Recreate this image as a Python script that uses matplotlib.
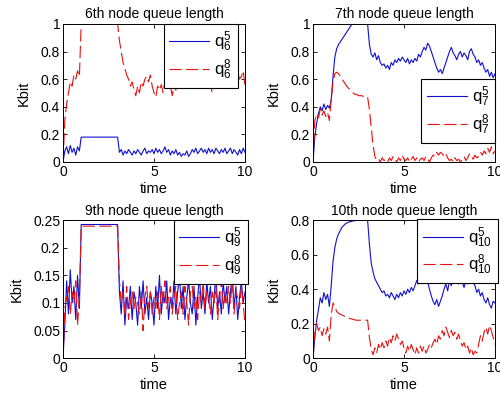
import numpy as np
import matplotlib
matplotlib.use("Agg")
import matplotlib.pyplot as plt

plt.rcParams['font.family'] = ['Liberation Sans', 'DejaVu Sans']
plt.rcParams['mathtext.default'] = 'regular'

t = np.round(np.arange(0, 10.01, 0.1), 1)

# 6th node
q6_5 = ([0.00, 0.08, 0.11, 0.06, 0.12, 0.07, 0.10, 0.05, 0.11, 0.08]
        + [0.18] * 21
        + [0.07, 0.09, 0.05, 0.08, 0.06, 0.09, 0.07, 0.05, 0.08, 0.06,
           0.09, 0.07, 0.05, 0.08, 0.10, 0.06, 0.08, 0.07, 0.09, 0.06,
           0.10, 0.07, 0.09, 0.06, 0.08, 0.11, 0.07, 0.09, 0.05, 0.08,
           0.06, 0.09, 0.05, 0.07, 0.04, 0.06, 0.05, 0.08, 0.04, 0.06,
           0.09, 0.07, 0.10, 0.06, 0.08, 0.10, 0.07, 0.09, 0.06, 0.10,
           0.07, 0.09, 0.06, 0.10, 0.08, 0.06, 0.09, 0.07, 0.10, 0.06,
           0.08, 0.10, 0.06, 0.09, 0.07, 0.05, 0.09, 0.06, 0.10, 0.07])
q6_8 = ([0.00, 0.30, 0.42, 0.50, 0.58, 0.55, 0.63, 0.60, 0.66, 0.62]
        + [1.0] * 21
        + [0.88, 0.80, 0.72, 0.68, 0.63, 0.60, 0.55, 0.58, 0.52, 0.48,
           0.55, 0.50, 0.58, 0.55, 0.60, 0.62, 0.58, 0.63, 0.55, 0.50,
           0.47, 0.55, 0.52, 0.56, 0.50, 0.58, 0.53, 0.60, 0.55, 0.48,
           0.55, 0.52, 0.58, 0.54, 0.60, 0.56, 0.62, 0.58, 0.55, 0.60,
           0.57, 0.62, 0.58, 0.55, 0.60, 0.57, 0.62, 0.58, 0.55, 0.52,
           0.56, 0.50, 0.54, 0.58, 0.53, 0.57, 0.60, 0.55, 0.62, 0.58,
           0.60, 0.56, 0.62, 0.58, 0.63, 0.65, 0.60, 0.62, 0.66, 0.55])

# 7th node
q7_5 = [0.00, 0.18, 0.28, 0.35, 0.40, 0.37, 0.42, 0.38, 0.41, 0.39,
        0.45, 0.62, 0.76, 0.82, 0.85, 0.87, 0.89, 0.91, 0.93, 0.95,
        0.97, 0.99, 1.0, 1.0, 1.0, 1.0, 1.0, 1.0, 1.0, 1.0,
        1.0,
        0.85, 0.78, 0.76, 0.79, 0.74, 0.77, 0.72, 0.70, 0.71, 0.68,
        0.70, 0.67, 0.72, 0.70, 0.74, 0.72, 0.75, 0.73, 0.76, 0.74,
        0.72, 0.75, 0.71, 0.74, 0.72, 0.75, 0.73, 0.78, 0.76, 0.80,
        0.83, 0.81, 0.86, 0.84, 0.80, 0.76, 0.72, 0.68, 0.65, 0.67,
        0.64, 0.68, 0.72, 0.76, 0.80, 0.83, 0.79, 0.77, 0.74, 0.78,
        0.80, 0.76, 0.79, 0.77, 0.74, 0.80, 0.82, 0.78, 0.76, 0.72,
        0.74, 0.70, 0.72, 0.68, 0.65, 0.67, 0.62, 0.65, 0.61, 0.64]
q7_8 = [0.00, 0.30, 0.35, 0.32, 0.38, 0.34, 0.37, 0.33, 0.36, 0.30,
        0.45, 0.58, 0.64, 0.65, 0.64, 0.62, 0.60, 0.58, 0.56, 0.54,
        0.53, 0.51, 0.50, 0.49, 0.49, 0.48, 0.48, 0.48, 0.47, 0.47,
        0.47,
        0.38, 0.25, 0.12, 0.04, 0.01, 0.02, 0.00, 0.03, 0.01, 0.02,
        0.00, 0.03, 0.01, 0.04, 0.02, 0.00, 0.03, 0.01, 0.05, 0.02,
        0.01, 0.03, 0.00, 0.02, 0.04, 0.01, 0.03, 0.00, 0.02, 0.03,
        0.01, 0.04, 0.02, 0.00, 0.03, 0.05, 0.04, 0.07, 0.05, 0.07,
        0.06, 0.04, 0.06, 0.03, 0.01, 0.02, 0.00, 0.03, 0.01, 0.02,
        0.00, 0.02, 0.04, 0.01, 0.03, 0.06, 0.04, 0.02, 0.05, 0.03,
        0.04, 0.07, 0.05, 0.08, 0.06, 0.10, 0.07, 0.11, 0.06, 0.08]

# 9th node
q9_5 = ([0.00, 0.06, 0.14, 0.08, 0.16, 0.10, 0.13, 0.07, 0.15, 0.09]
        + [0.242] * 21
        + [0.12, 0.08, 0.14, 0.06, 0.11, 0.09, 0.13, 0.07, 0.12, 0.10,
           0.06, 0.13, 0.09, 0.14, 0.08, 0.11, 0.07, 0.12, 0.10, 0.06,
           0.13, 0.09, 0.15, 0.08, 0.12, 0.10, 0.14, 0.07, 0.11, 0.09,
           0.14, 0.08, 0.12, 0.15, 0.09, 0.13, 0.07, 0.11, 0.14, 0.10,
           0.08, 0.13, 0.06, 0.11, 0.15, 0.09, 0.12, 0.08, 0.14, 0.10,
           0.13, 0.07, 0.11, 0.15, 0.09, 0.12, 0.08, 0.14, 0.10, 0.13,
           0.08, 0.12, 0.15, 0.09, 0.13, 0.07, 0.11, 0.14, 0.10, 0.12])
q9_8 = ([0.00, 0.09, 0.11, 0.13, 0.08, 0.12, 0.10, 0.14, 0.06, 0.11]
        + [0.239] * 21
        + [0.14, 0.10, 0.12, 0.08, 0.13, 0.07, 0.10, 0.12, 0.09, 0.11,
           0.10, 0.08, 0.12, 0.05, 0.11, 0.13, 0.09, 0.12, 0.08, 0.11,
           0.09, 0.12, 0.07, 0.13, 0.10, 0.14, 0.09, 0.11, 0.13, 0.08,
           0.11, 0.13, 0.07, 0.10, 0.12, 0.08, 0.13, 0.10, 0.06, 0.12,
           0.13, 0.09, 0.11, 0.07, 0.12, 0.10, 0.14, 0.09, 0.12, 0.11,
           0.08, 0.12, 0.10, 0.13, 0.07, 0.11, 0.14, 0.09, 0.12, 0.10,
           0.13, 0.10, 0.14, 0.08, 0.12, 0.11, 0.09, 0.13, 0.10, 0.06])

# 10th node
q10_5 = [0.00, 0.12, 0.22, 0.28, 0.35, 0.32, 0.38, 0.34, 0.37, 0.30,
         0.42, 0.56, 0.64, 0.69, 0.72, 0.74, 0.76, 0.77, 0.78, 0.785,
         0.79, 0.792, 0.795, 0.797, 0.798, 0.8, 0.8, 0.8, 0.8, 0.8,
         0.8,
         0.66, 0.55, 0.50, 0.46, 0.44, 0.42, 0.40, 0.38, 0.39, 0.36,
         0.37, 0.35, 0.38, 0.36, 0.34, 0.37, 0.35, 0.38, 0.36, 0.39,
         0.37, 0.40, 0.38, 0.41, 0.39, 0.42, 0.45, 0.43, 0.47, 0.49,
         0.46, 0.48, 0.44, 0.40, 0.36, 0.33, 0.31, 0.34, 0.30, 0.33,
         0.36, 0.40, 0.43, 0.39, 0.45, 0.42, 0.47, 0.44, 0.46, 0.43,
         0.47, 0.44, 0.41, 0.45, 0.43, 0.46, 0.48, 0.44, 0.42, 0.38,
         0.40, 0.36, 0.38, 0.34, 0.32, 0.35, 0.31, 0.29, 0.33, 0.32]
q10_8 = [0.00, 0.14, 0.20, 0.16, 0.18, 0.13, 0.17, 0.14, 0.18, 0.10,
         0.25, 0.32, 0.30, 0.27, 0.26, 0.255, 0.25, 0.245, 0.24, 0.235,
         0.23, 0.228, 0.225, 0.222, 0.22, 0.22, 0.22, 0.22, 0.22, 0.22,
         0.22,
         0.12, 0.05, 0.02, 0.06, 0.03, 0.08, 0.05, 0.09, 0.06, 0.10,
         0.07, 0.12, 0.09, 0.13, 0.10, 0.14, 0.11, 0.08, 0.10, 0.06,
         0.03, 0.07, 0.04, 0.08, 0.05, 0.02, 0.06, 0.03, 0.07, 0.04,
         0.07, 0.03, 0.05, 0.08, 0.06, 0.09, 0.11, 0.08, 0.13, 0.11,
         0.16, 0.13, 0.18, 0.15, 0.12, 0.16, 0.13, 0.15, 0.11, 0.14,
         0.10, 0.07, 0.09, 0.05, 0.07, 0.03, 0.06, 0.02, 0.04, 0.03,
         0.08, 0.13, 0.10, 0.15, 0.18, 0.14, 0.19, 0.16, 0.12, 0.08]

titles = ["6th node queue length", "7th node queue length",
          "9th node queue length", "10th node queue length"]
nodes = ["6", "7", "9", "10"]
series = [(q6_5, q6_8), (q7_5, q7_8), (q9_5, q9_8), (q10_5, q10_8)]
ylims = [(0, 1), (0, 1), (0, 0.25), (0, 0.8)]
yticks = [[0, 0.2, 0.4, 0.6, 0.8, 1], [0, 0.2, 0.4, 0.6, 0.8, 1],
          [0, 0.05, 0.1, 0.15, 0.2, 0.25], [0, 0.2, 0.4, 0.6, 0.8]]

# --- layout (figure fractions) ---
positions = [[0.126, 0.593, 0.364, 0.347], [0.626, 0.593, 0.364, 0.347],
             [0.126, 0.100, 0.364, 0.347], [0.626, 0.100, 0.364, 0.347]]
legend_anchor = [(0.96, 1.0), (1.0, 0.60), (1.015, 1.0), (1.015, 1.005)]

fig = plt.figure(figsize=(5.0, 3.98), dpi=100)

for i in range(4):
    ax = fig.add_axes(positions[i])
    s5, s8 = series[i]
    ax.plot(t, s5, color='#1010d0', lw=0.8, label=f'$q_{{{nodes[i]}}}^5$')
    ax.plot(t, s8, color='#e81010', lw=0.8, linestyle=(0, (11, 4)),
            label=f'$q_{{{nodes[i]}}}^8$')
    ax.set_xlim(0, 10)
    ax.set_ylim(*ylims[i])
    ax.set_xticks([0, 5, 10])
    ax.set_yticks(yticks[i])
    ax.set_yticklabels([f'{v:g}' for v in yticks[i]])
    ax.tick_params(direction='in', top=True, right=True, length=3,
                   width=0.6, labelsize=10, pad=2)
    for sp in ax.spines.values():
        sp.set_linewidth(0.7)
    ax.set_title(titles[i], fontsize=10, pad=4)
    ax.set_xlabel('time', fontsize=10.5, labelpad=2)
    ax.set_ylabel('Kbit', fontsize=10.5, labelpad=7)
    leg = ax.legend(loc='upper right', bbox_to_anchor=legend_anchor[i],
                    borderaxespad=0, fancybox=False, framealpha=1,
                    edgecolor='black', fontsize=12, handlelength=2.4,
                    handletextpad=0.3, labelspacing=0.2, borderpad=0.35)
    leg.get_frame().set_linewidth(0.8)

plt.savefig('out.png', dpi=100)
